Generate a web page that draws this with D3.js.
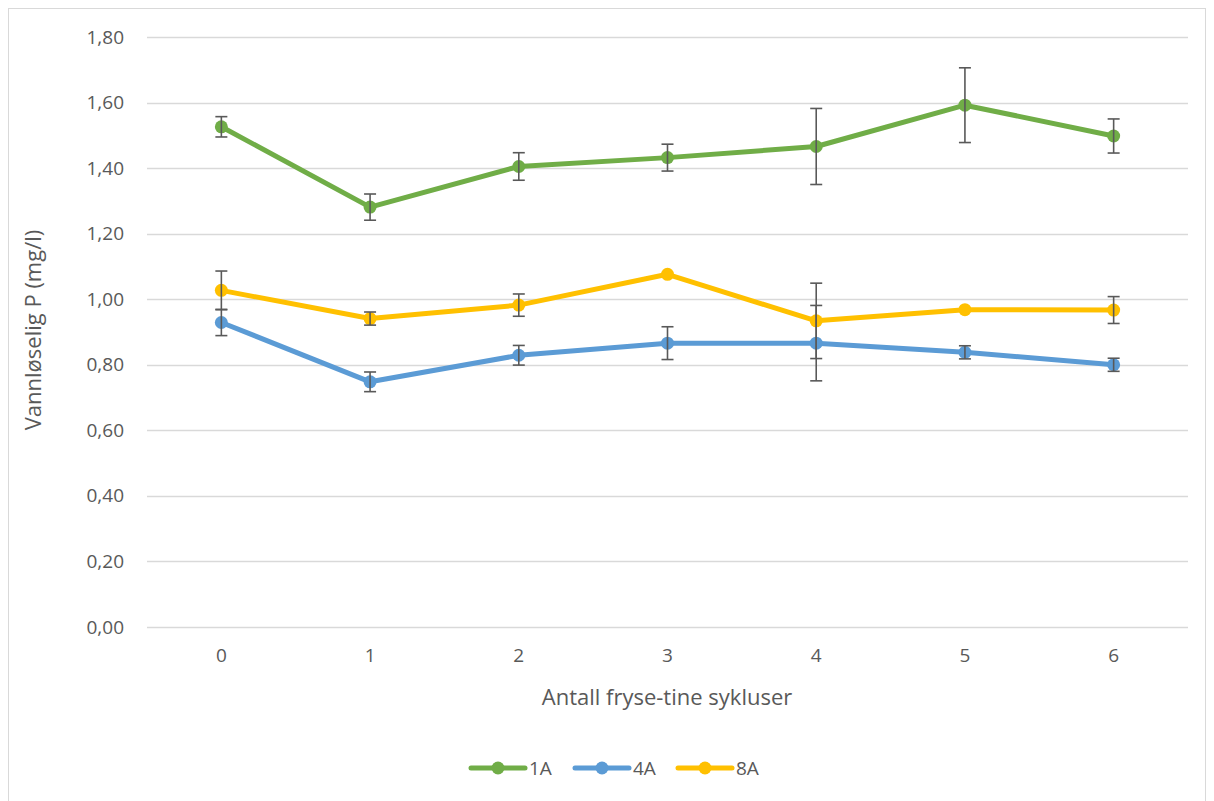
<!DOCTYPE html>
<html>
<head>
<meta charset="utf-8">
<script src="https://cdn.jsdelivr.net/npm/d3@7/dist/d3.min.js"></script>
<style>
  html, body { margin: 0; padding: 0; background: #fff; }
  svg { display: block; font-family: "Open Sans", "Noto Sans", sans-serif; }
</style>
</head>
<body>
<svg id="chart" width="1214" height="801"></svg>
<script>
// Freeze-thaw cycles on the x axis
const cycles = ["0", "1", "2", "3", "4", "5", "6"];

// Water-soluble P (mg/l), mean per cycle
const seriesNames = ["1A", "4A", "8A"];
const values1A = [1.526, 1.281, 1.405, 1.432, 1.466, 1.592, 1.498];
const values4A = [0.929, 0.748, 0.829, 0.866, 0.866, 0.838, 0.800];
const values8A = [1.027, 0.941, 0.982, 1.076, 0.934, 0.968, 0.967];

// Error bar half-widths (±); 0 means no visible bar
const err1A = [0.031, 0.040, 0.042, 0.041, 0.116, 0.114, 0.052];
const err4A = [0.040, 0.030, 0.030, 0.050, 0.115, 0.020, 0.020];
const err8A = [0.059, 0.020, 0.034, 0.000, 0.115, 0.000, 0.041];

const yTicks = [0, 0.2, 0.4, 0.6, 0.8, 1.0, 1.2, 1.4, 1.6, 1.8];
const colors = ["#70AD47", "#5B9BD5", "#FFC000"];

const series = [
  { name: seriesNames[0], values: values1A, err: err1A, color: colors[0] },
  { name: seriesNames[1], values: values4A, err: err4A, color: colors[1] },
  { name: seriesNames[2], values: values8A, err: err8A, color: colors[2] }
];

const svg = d3.select("#chart");
const textColor = "#595959";

// Chart frame
svg.append("rect")
  .attr("x", 8.5).attr("y", 8.5)
  .attr("width", 1197).attr("height", 800)
  .attr("fill", "#fff").attr("stroke", "#d9d9d9").attr("stroke-width", 1);

const plot = { left: 147, right: 1188, top: 37, bottom: 627 };

const x = d3.scaleBand().domain(cycles).range([plot.left, plot.right]);
const cx = d => x(d) + x.bandwidth() / 2;
const y = d3.scaleLinear().domain([0, 1.8]).range([plot.bottom, plot.top]);

// Horizontal gridlines
svg.append("g")
  .selectAll("line")
  .data(yTicks)
  .join("line")
  .attr("x1", plot.left).attr("x2", plot.right)
  .attr("y1", d => Math.round(y(d)) + 0.5).attr("y2", d => Math.round(y(d)) + 0.5)
  .attr("stroke", "#d9d9d9").attr("stroke-width", 1.3);

// Y axis tick labels
const fmt = d => d3.format(".2f")(d).replace(".", ",");
const yAxis = d3.axisLeft(y).tickValues(yTicks).tickFormat(fmt).tickSize(0).tickPadding(0);
const gy = svg.append("g").attr("transform", `translate(${124},0)`).call(yAxis);
gy.select(".domain").remove();
gy.selectAll("text")
  .attr("fill", textColor).style("font-size", "19px")
  .style("font-family", "'Open Sans', sans-serif");

// X axis tick labels
const xAxis = d3.axisBottom(x).tickSize(0).tickPadding(0);
const gx = svg.append("g").attr("transform", `translate(0,${plot.bottom + 21})`).call(xAxis);
gx.select(".domain").remove();
gx.selectAll("text")
  .attr("fill", textColor).style("font-size", "19px")
  .style("font-family", "'Open Sans', sans-serif");

// Axis titles
svg.append("text")
  .attr("x", 667).attr("y", 705)
  .attr("text-anchor", "middle")
  .attr("fill", textColor).style("font-size", "22px")
  .text("Antall fryse-tine sykluser");

svg.append("text")
  .attr("transform", `translate(41,330) rotate(-90)`)
  .attr("text-anchor", "middle")
  .attr("fill", textColor).style("font-size", "22px")
  .text("Vannløselig P (mg/l)");

// Lines and markers
const line = d3.line().x((d, i) => cx(cycles[i])).y(d => y(d));

series.forEach(s => {
  const g = svg.append("g");
  g.append("path")
    .datum(s.values)
    .attr("d", line)
    .attr("fill", "none")
    .attr("stroke", s.color)
    .attr("stroke-width", 5)
    .attr("stroke-linejoin", "round")
    .attr("stroke-linecap", "round");
  g.selectAll("circle")
    .data(s.values)
    .join("circle")
    .attr("cx", (d, i) => cx(cycles[i]))
    .attr("cy", d => y(d))
    .attr("r", 6.5)
    .attr("fill", s.color);
});

// Error bars drawn on top of the series
series.forEach(s => {
  const g = svg.append("g").attr("stroke", "#595959").attr("stroke-width", 1.6);
  s.values.forEach((v, i) => {
    if (!s.err[i]) return;
    const xc = cx(cycles[i]);
    const lo = y(v - s.err[i]), hi = y(v + s.err[i]);
    g.append("line").attr("x1", xc).attr("x2", xc).attr("y1", lo).attr("y2", hi);
    g.append("line").attr("x1", xc - 6).attr("x2", xc + 6).attr("y1", lo).attr("y2", lo);
    g.append("line").attr("x1", xc - 6).attr("x2", xc + 6).attr("y1", hi).attr("y2", hi);
  });
});

// Legend
const legendItems = [
  { name: seriesNames[0], color: colors[0], x: 471 },
  { name: seriesNames[1], color: colors[1], x: 575 },
  { name: seriesNames[2], color: colors[2], x: 678 }
];
const lg = svg.append("g").attr("transform", "translate(0,768)");
legendItems.forEach(it => {
  lg.append("line")
    .attr("x1", it.x).attr("x2", it.x + 54)
    .attr("y1", 0).attr("y2", 0)
    .attr("stroke", it.color).attr("stroke-width", 5).attr("stroke-linecap", "round");
  lg.append("circle").attr("cx", it.x + 27).attr("cy", 0).attr("r", 6.5).attr("fill", it.color);
  lg.append("text")
    .attr("x", it.x + 58).attr("y", 0).attr("dy", "0.36em")
    .attr("fill", textColor).style("font-size", "19px")
    .text(it.name);
});
</script>
</body>
</html>
